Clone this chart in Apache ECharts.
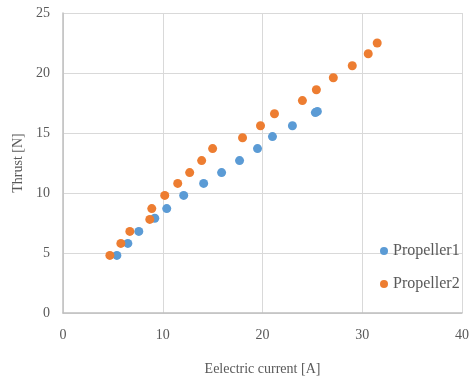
<!DOCTYPE html>
<html><head><meta charset="utf-8">
<script src="https://cdn.jsdelivr.net/npm/echarts@6/dist/echarts.min.js"></script>
<style>html,body{margin:0;padding:0;background:#fff}#c{width:472px;height:381px}</style>
</head><body><div id="c"></div>
<script>
const seriesNames = ["Propeller1", "Propeller2"];
const p1Current = [5.4, 6.5, 7.6, 9.2, 10.4, 12.1, 14.1, 15.9, 17.7, 19.5, 21.0, 23.0, 25.3, 25.5];
const p1Thrust  = [4.8, 5.8, 6.8, 7.9, 8.7, 9.8, 10.8, 11.7, 12.7, 13.7, 14.7, 15.6, 16.7, 16.8];
const p2Current = [4.7, 5.8, 6.7, 8.7, 8.9, 10.2, 11.5, 12.7, 13.9, 15.0, 18.0, 19.8, 21.2, 24.0, 25.4, 27.1, 29.0, 30.6, 31.5];
const p2Thrust  = [4.8, 5.8, 6.8, 7.8, 8.7, 9.8, 10.8, 11.7, 12.7, 13.7, 14.6, 15.6, 16.6, 17.7, 18.6, 19.6, 20.6, 21.6, 22.5];
const xTitle = "Eelectric current [A]";
const yTitle = "Thrust [N]";

const zip = (a, b) => a.map((v, i) => [v, b[i]]);
const font = "Liberation Serif";
const chart = echarts.init(document.getElementById('c'));
chart.setOption({
  animation: false,
  grid: {left: 63, right: 9, top: 13, bottom: 66},
  xAxis: {
    type: 'value', min: 0, max: 40, interval: 10,
    name: xTitle, nameLocation: 'middle', nameGap: 49,
    nameTextStyle: {fontFamily: font, fontSize: 14, color: '#595959'},
    axisLine: {show: true, lineStyle: {color: '#bfbfbf', width: 1.5}},
    axisTick: {show: false},
    axisLabel: {fontFamily: font, fontSize: 14, color: '#595959', margin: 15},
    splitLine: {show: true, lineStyle: {color: '#d9d9d9'}}
  },
  yAxis: {
    type: 'value', min: 0, max: 25, interval: 5,
    name: yTitle, nameLocation: 'middle', nameGap: 38,
    nameTextStyle: {fontFamily: font, fontSize: 14, color: '#595959'},
    axisLine: {show: true, lineStyle: {color: '#bfbfbf', width: 1.5}},
    axisTick: {show: false},
    axisLabel: {fontFamily: font, fontSize: 14, color: '#595959', margin: 13},
    splitLine: {show: true, lineStyle: {color: '#d9d9d9'}}
  },
  legend: {
    orient: 'vertical', left: 380, top: 243, itemGap: 17, padding: 0,
    icon: 'circle', itemWidth: 8, itemHeight: 8,
    textStyle: {fontFamily: font, fontSize: 16, color: '#595959'},
    data: seriesNames
  },
  series: [
    {name: seriesNames[0], type: 'scatter', symbolSize: 9, itemStyle: {color: '#5B9BD5', opacity: 1}, data: zip(p1Current, p1Thrust)},
    {name: seriesNames[1], type: 'scatter', symbolSize: 9, itemStyle: {color: '#ED7D31', opacity: 1}, data: zip(p2Current, p2Thrust)}
  ]
});
</script></body></html>
